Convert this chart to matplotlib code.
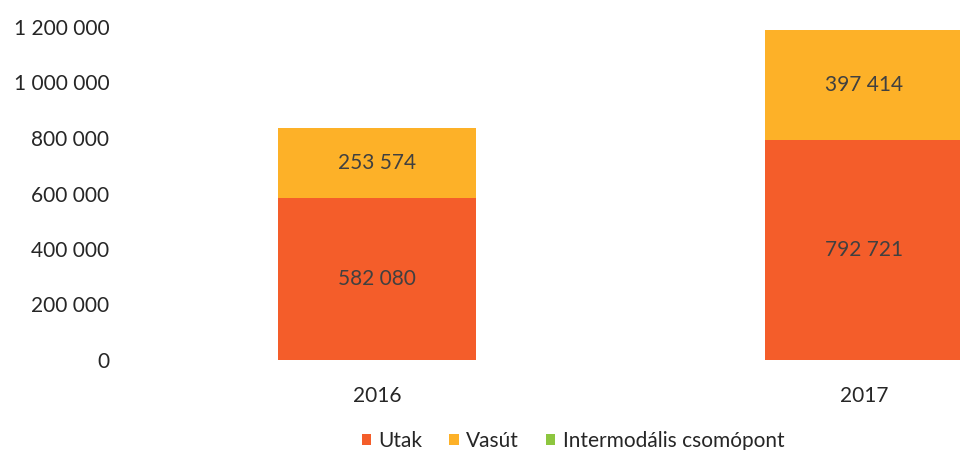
import matplotlib
matplotlib.use("Agg")
import matplotlib.pyplot as plt
from matplotlib.ticker import FuncFormatter

plt.rcParams["font.family"] = ["Lato", "DejaVu Sans"]

years = ["2016", "2017"]
utak = [582080, 792721]
vasut = [253574, 397414]
intermodalis = [0, 0]

series = ["Utak", "Vasút", "Intermodális csomópont"]
colors = ["#F45D2A", "#FDB128", "#8DC63F"]
TEXT = "#262626"


def fmt(v):
    return f"{int(v):,}".replace(",", " ")


fig = plt.figure(figsize=(9.6, 4.5), dpi=100)
ax = fig.add_axes([133 / 960, 0.2, 975 / 960, 0.74])

x = [0.5, 1.5]
w = 0.407
b1 = ax.bar(x, utak, width=w, color=colors[0], label=series[0])
b2 = ax.bar(x, vasut, width=w, bottom=utak, color=colors[1], label=series[1])
tot = [u + v for u, v in zip(utak, vasut)]
b3 = ax.bar(x, intermodalis, width=w, bottom=tot, color=colors[2], label=series[2])

for xi, u, v in zip(x, utak, vasut):
    ax.text(xi, u / 2, fmt(u), ha="center", va="center", fontsize=15, color="#404040")
    ax.text(xi, u + v / 2, fmt(v), ha="center", va="center", fontsize=15, color="#404040")

ax.set_xlim(0, 2)
ax.set_ylim(0, 1200000)
ax.set_yticks(range(0, 1200001, 200000))
ax.yaxis.set_major_formatter(FuncFormatter(lambda v, p: fmt(v)))
ax.set_xticks(x)
ax.set_xticklabels(years)
for s in ax.spines.values():
    s.set_visible(False)
ax.tick_params(axis="both", length=0, labelsize=15, colors=TEXT)
ax.tick_params(axis="y", pad=17)
ax.tick_params(axis="x", pad=19)

fig.legend(handles=[b1, b2, b3], labels=series, loc="center", bbox_to_anchor=(573 / 960, 9 / 450),
           ncol=3, frameon=False, fontsize=15, handlelength=0.45, handleheight=0.45,
           handletextpad=0.35, columnspacing=1.3, labelcolor=TEXT)

fig.savefig("out.png", dpi=100)
